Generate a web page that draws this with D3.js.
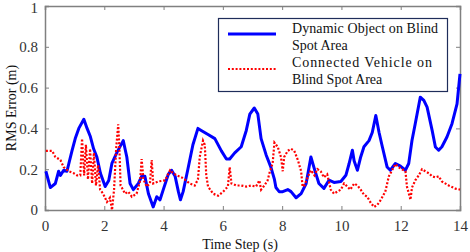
<!DOCTYPE html>
<html><head><meta charset="utf-8">
<script src="https://cdn.jsdelivr.net/npm/d3@7"></script>
</head><body style="margin:0">
<script>
const xTicks = [0, 2, 4, 6, 8, 10, 12, 14];
const yTicks = [0, 0.2, 0.4, 0.6, 0.8, 1];
const yTickLabels = ["0", "0.2", "0.4", "0.6", "0.8", "1"];
const legendLabels = [["Dynamic Object on Blind", "Spot Area"], ["Connected Vehicle on", "Blind Spot Area"]];
const xTitle = "Time Step (s)";
const yTitle = "RMS Error (m)";

const blueTime = [0.03,0.18,0.35,0.46,0.52,0.63,0.74,0.91,1.02,1.14,1.31,1.42,1.53,1.64,1.75,1.87,2.03,2.15,2.26,2.42,2.64,2.76,2.87,2.98,3.15,3.26,3.37,3.49,3.65,3.77,3.88,3.99,4.16,4.27,4.39,4.50,4.57,4.66,4.82,4.99,5.16,5.27,5.50,5.73,5.95,6.12,6.23,6.40,6.62,6.79,6.91,7.06,7.18,7.29,7.46,7.62,7.74,7.79,7.90,8.02,8.19,8.30,8.47,8.64,8.81,8.97,9.09,9.24,9.41,9.58,9.75,9.98,10.15,10.26,10.37,10.43,10.54,10.65,10.76,10.93,11.04,11.16,11.27,11.38,11.54,11.65,11.82,11.99,12.16,12.27,12.38,12.49,12.66,12.78,12.89,13.06,13.17,13.28,13.39,13.56,13.73,13.90,14.0];
const blueRms = [0.19,0.11,0.13,0.19,0.17,0.195,0.19,0.29,0.35,0.40,0.445,0.40,0.36,0.30,0.26,0.18,0.115,0.145,0.23,0.28,0.34,0.26,0.13,0.10,0.13,0.165,0.165,0.08,0.015,0.065,0.05,0.10,0.175,0.195,0.165,0.09,0.05,0.09,0.20,0.32,0.40,0.39,0.37,0.35,0.29,0.25,0.25,0.28,0.31,0.39,0.47,0.50,0.47,0.35,0.27,0.21,0.15,0.11,0.09,0.09,0.10,0.09,0.06,0.08,0.13,0.26,0.20,0.13,0.106,0.146,0.135,0.14,0.17,0.228,0.293,0.24,0.195,0.26,0.31,0.34,0.38,0.463,0.38,0.31,0.211,0.195,0.228,0.215,0.195,0.228,0.341,0.423,0.553,0.537,0.504,0.39,0.309,0.293,0.31,0.358,0.423,0.52,0.667];

const redTime = [0.03,0.24,0.35,0.52,0.63,0.80,0.97,1.08,1.19,1.25,1.32,1.38,1.45,1.52,1.59,1.65,1.72,1.79,1.86,1.96,2.09,2.19,2.26,2.33,2.40,2.47,2.51,2.55,2.59,2.70,2.81,2.93,3.09,3.21,3.26,3.32,3.43,3.54,3.60,3.65,3.82,4.05,4.22,4.33,4.44,4.61,4.71,4.88,5.05,5.16,5.22,5.33,5.39,5.44,5.50,5.67,5.84,6.01,6.17,6.23,6.29,6.45,6.62,6.79,6.95,7.12,7.23,7.29,7.40,7.51,7.57,7.68,7.74,7.85,7.96,8.02,8.07,8.19,8.30,8.41,8.53,8.64,8.69,8.75,8.86,8.97,9.09,9.19,9.30,9.41,9.52,9.64,9.75,9.86,9.98,10.09,10.20,10.30,10.43,10.54,10.65,10.76,10.87,10.99,11.10,11.21,11.33,11.44,11.48,11.60,11.71,11.82,11.93,12.04,12.16,12.21,12.33,12.38,12.49,12.61,12.72,12.83,12.95,13.06,13.17,13.28,13.39,13.62,13.84,14.0];
const redRms = [0.29,0.29,0.26,0.245,0.21,0.19,0.18,0.17,0.17,0.35,0.17,0.32,0.15,0.30,0.13,0.28,0.12,0.22,0.10,0.08,0.04,0.06,0.00,0.10,0.30,0.42,0.30,0.12,0.11,0.08,0.09,0.065,0.08,0.145,0.25,0.15,0.115,0.13,0.245,0.13,0.14,0.145,0.195,0.18,0.17,0.16,0.15,0.13,0.12,0.15,0.26,0.34,0.32,0.17,0.115,0.08,0.07,0.09,0.115,0.21,0.13,0.12,0.12,0.115,0.12,0.115,0.145,0.10,0.12,0.145,0.18,0.23,0.33,0.31,0.26,0.19,0.26,0.29,0.30,0.29,0.245,0.19,0.115,0.12,0.16,0.195,0.17,0.20,0.19,0.16,0.175,0.10,0.08,0.09,0.10,0.13,0.115,0.10,0.13,0.12,0.10,0.075,0.065,0.035,0.015,0.025,0.05,0.08,0.09,0.165,0.195,0.225,0.21,0.20,0.19,0.115,0.05,0.11,0.145,0.17,0.20,0.19,0.18,0.165,0.16,0.165,0.14,0.12,0.105,0.10];

const W = 470, H = 252;
const m = {left: 45, right: 10, top: 6, bottom: 42};
const iw = W - m.left - m.right, ih = H - m.top - m.bottom;
const FONT = '"Liberation Serif"';

const svg = d3.select("body").append("svg").attr("width", W).attr("height", H)
  .style("display", "block").style("font-family", FONT);
const g = svg.append("g").attr("transform", `translate(${m.left},${m.top})`);

const x = d3.scaleLinear().domain([0, 14]).range([0, iw]);
const y = d3.scaleLinear().domain([0, 1]).range([ih, 0]);

const axisColor = "#808080";
const tickLen = 4;

const xAxis = g.append("g").attr("transform", `translate(0,${ih})`)
  .call(d3.axisBottom(x).tickValues(xTicks).tickSize(-tickLen).tickPadding(10).tickFormat(d3.format("d")));
const xTop = g.append("g")
  .call(d3.axisTop(x).tickValues(xTicks).tickSize(-tickLen).tickFormat(""));
const yAxis = g.append("g")
  .call(d3.axisLeft(y).tickValues(yTicks).tickSize(-tickLen).tickPadding(7).tickFormat((d,i) => yTickLabels[i]));
const yRight = g.append("g").attr("transform", `translate(${iw},0)`)
  .call(d3.axisRight(y).tickValues(yTicks).tickSize(-tickLen).tickFormat(""));

[xAxis, xTop, yAxis, yRight].forEach(a => {
  a.attr("font-family", "Liberation Serif").attr("font-size", 15);
  a.selectAll("path.domain").attr("stroke", axisColor).attr("stroke-width", 1.5);
  a.selectAll(".tick line").attr("stroke", axisColor).attr("stroke-width", 1);
  a.selectAll(".tick text").attr("fill", "#333").attr("font-size", 15).style("font-family", FONT);
});
[xAxis, xTop].forEach(a => a.selectAll(".tick").filter(d => d === 0 || d === 14).select("line").remove());
[yAxis, yRight].forEach(a => a.selectAll(".tick").filter(d => d === 0 || d === 1).select("line").remove());
yAxis.selectAll(".tick").filter(d => d === 1).select("text").attr("dy", "0.42em");

const line = d3.line().x(d => x(d[0])).y(d => y(d[1]));
const redData = redTime.map((t, i) => [t, redRms[i]]);
const blueData = blueTime.map((t, i) => [t, blueRms[i]]);

g.append("path").datum(blueData).attr("d", line).attr("fill", "none")
  .attr("stroke", "#0000ff").attr("stroke-width", 3).attr("stroke-linejoin", "round");
g.append("path").datum(redData).attr("d", line).attr("fill", "none")
  .attr("stroke", "#ff0000").attr("stroke-width", 2.2).attr("stroke-dasharray", "2,1.8");

const lg = svg.append("g");
lg.append("rect").attr("x", 218.5).attr("y", 18.5).attr("width", 229).attr("height", 73)
  .attr("fill", "#fff").attr("stroke", "#1f2d5a").attr("stroke-width", 1.2);
lg.append("line").attr("x1", 228).attr("x2", 276).attr("y1", 34).attr("y2", 34)
  .attr("stroke", "#0000ff").attr("stroke-width", 3);
lg.append("line").attr("x1", 228).attr("x2", 276).attr("y1", 69).attr("y2", 69)
  .attr("stroke", "#ff0000").attr("stroke-width", 2.2).attr("stroke-dasharray", "2,1.8");
const rows = [
  {t: legendLabels[0][0], y: 33, len: 146},
  {t: legendLabels[0][1], y: 50},
  {t: legendLabels[1][0], y: 67, len: 140},
  {t: legendLabels[1][1], y: 84}
];
rows.forEach(r => {
  const t = lg.append("text").attr("x", 292).attr("y", r.y).text(r.t)
    .attr("font-size", 14).style("font-family", FONT).attr("fill", "#111");
  if (r.len) t.attr("textLength", r.len).attr("lengthAdjust", "spacing");
});

svg.append("text").attr("x", 240).attr("y", 249).attr("text-anchor", "middle")
  .attr("font-size", 14).style("font-family", FONT).attr("fill", "#111").text(xTitle);
svg.append("text").attr("transform", `translate(16,${m.top + ih / 2}) rotate(-90)`).attr("text-anchor", "middle")
  .attr("font-size", 14).style("font-family", FONT).attr("fill", "#111").text(yTitle);
</script>
</body></html>
